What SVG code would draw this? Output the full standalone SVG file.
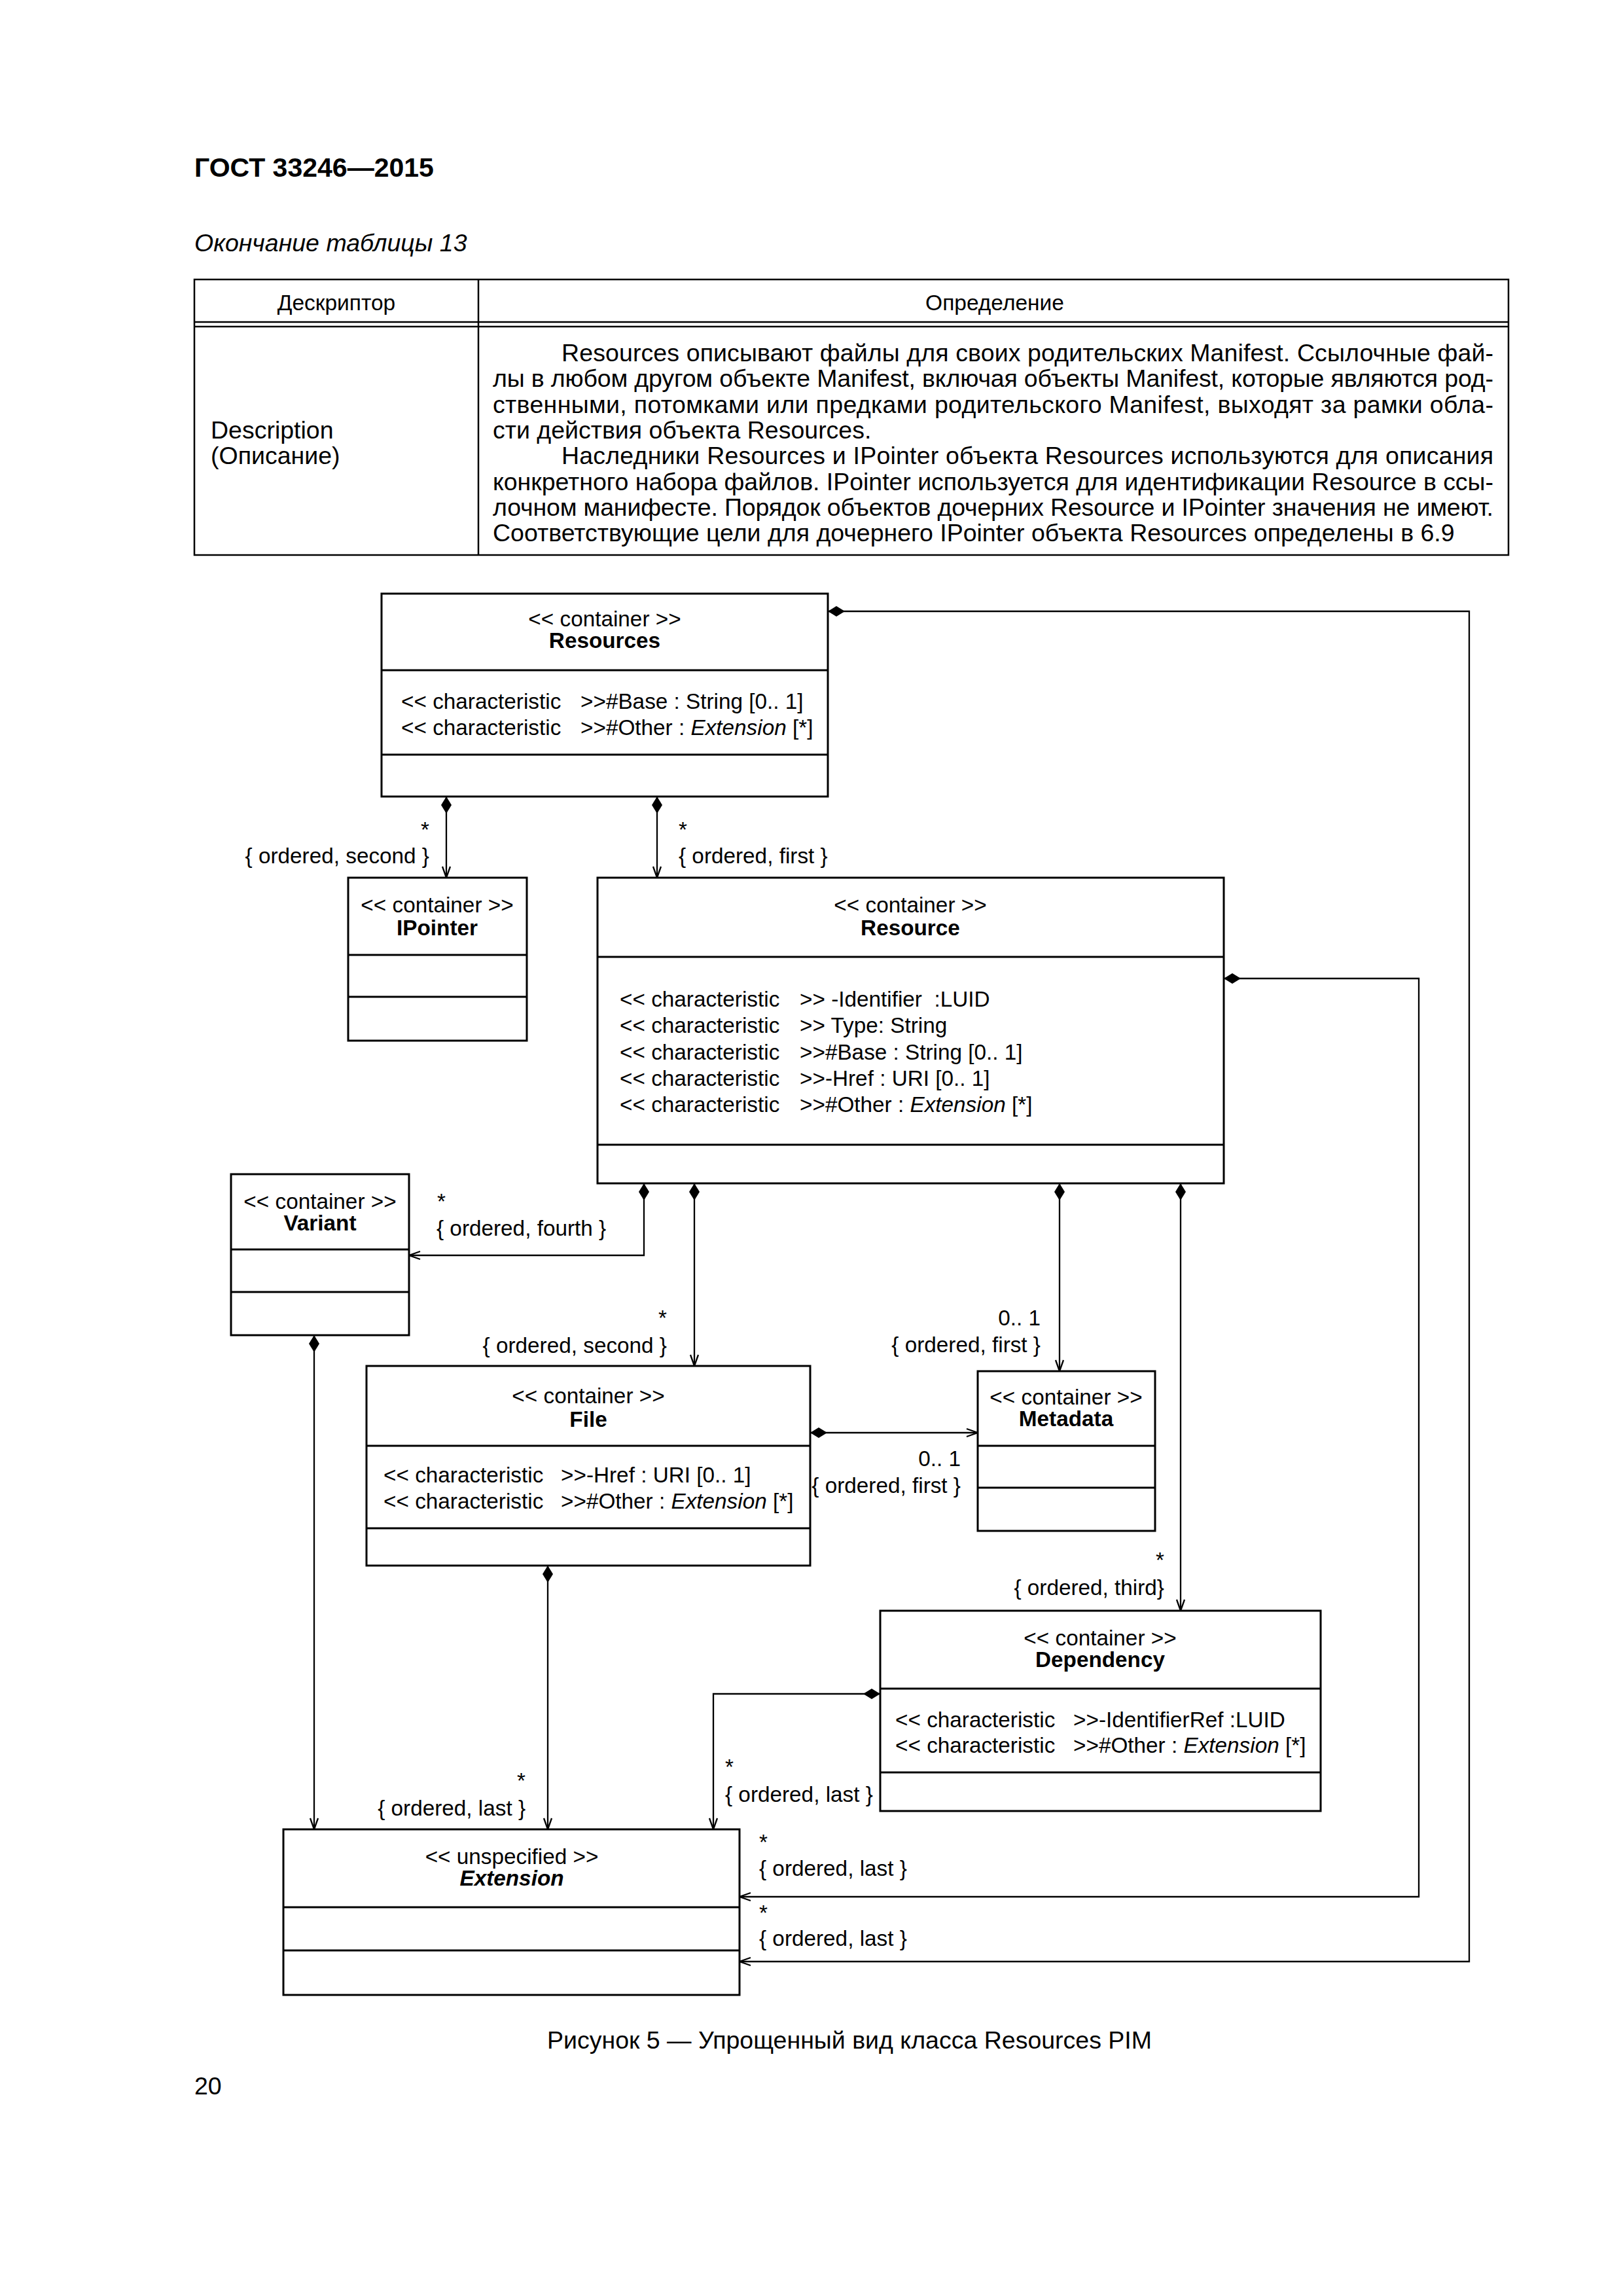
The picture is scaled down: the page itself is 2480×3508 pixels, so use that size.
<svg xmlns="http://www.w3.org/2000/svg" width="2480" height="3508" viewBox="0 0 2480 3508">
<style>
text{font-family:"Liberation Sans",Arial,sans-serif;fill:#000;white-space:pre}
.d{font-size:33.3px}
.p{font-size:37.5px}
.h{font-size:33.5px}
.b{font-weight:bold}
.i{font-style:italic}
.m{text-anchor:middle}
.e{text-anchor:end}
.box{fill:#fff;stroke:#000;stroke-width:3}
.sep{stroke:#000;stroke-width:3}
.tl{stroke:#000;stroke-width:2.5;fill:none}
.conn{fill:none;stroke:#000;stroke-width:2.3;marker-start:url(#dia);marker-end:url(#arr)}
</style>
<defs>
<marker id="dia" markerUnits="userSpaceOnUse" markerWidth="28" markerHeight="18" refX="0" refY="8" orient="auto" overflow="visible">
<path d="M0,8 L13,0 L26,8 L13,16 Z" fill="#000"/>
</marker>
<marker id="arr" markerUnits="userSpaceOnUse" markerWidth="22" markerHeight="16" refX="18" refY="7" orient="auto" overflow="visible">
<path d="M1,1 L18,7 L1,13" fill="none" stroke="#000" stroke-width="2.3"/>
</marker>
</defs>
<rect width="2480" height="3508" fill="#fff"/>

<g id="page-header">
<text class="b" x="297" y="270" style="font-size:41px">ГОСТ 33246—2015</text>
<text class="i" x="297" y="384" style="font-size:37.5px">Окончание таблицы 13</text>
</g>

<g id="table">
<rect x="297" y="427" width="2008" height="421" class="tl"/>
<line x1="731" y1="427" x2="731" y2="848" class="tl"/>
<line x1="297" y1="492" x2="2305" y2="492" class="tl"/>
<line x1="297" y1="499" x2="2305" y2="499" class="tl"/>
<text class="h m" x="514" y="474">Дескриптор</text>
<text class="h m" x="1520" y="474">Определение</text>
<text class="p" x="322" y="670">Description</text>
<text class="p" x="322" y="709">(Описание)</text>
<text class="p" x="858" y="552" textLength="1424" lengthAdjust="spacing">Resources описывают файлы для своих родительских Manifest. Ссылочные фай-</text>
<text class="p" x="753" y="591" textLength="1529" lengthAdjust="spacing">лы в любом другом объекте Manifest, включая объекты Manifest, которые являются род-</text>
<text class="p" x="753" y="631" textLength="1529" lengthAdjust="spacing">ственными, потомками или предками родительского Manifest, выходят за рамки обла-</text>
<text class="p" x="753" y="670">сти действия объекта Resources.</text>
<text class="p" x="858" y="709" textLength="1424" lengthAdjust="spacing">Наследники Resources и IPointer объекта Resources используются для описания</text>
<text class="p" x="753" y="749" textLength="1529" lengthAdjust="spacing">конкретного набора файлов. IPointer используется для идентификации Resource в ссы-</text>
<text class="p" x="753" y="788" textLength="1529" lengthAdjust="spacing">лочном манифесте. Порядок объектов дочерних Resource и IPointer значения не имеют.</text>
<text class="p" x="753" y="827">Соответствующие цели для дочернего IPointer объекта Resources определены в 6.9</text>
</g>

<g id="connectors">
<polyline class="conn" points="682,1217 682,1341"/>
<polyline class="conn" points="1004,1217 1004,1341"/>
<polyline class="conn" points="1265,934 2245,934 2245,2997 1130,2997"/>
<polyline class="conn" points="1870,1495 2168,1495 2168,2898 1130,2898"/>
<polyline class="conn" points="984,1808 984,1918 625,1918"/>
<polyline class="conn" points="1061,1808 1061,2087"/>
<polyline class="conn" points="1619,1808 1619,2095"/>
<polyline class="conn" points="1804,1808 1804,2461"/>
<polyline class="conn" points="1238,2189 1494,2189"/>
<polyline class="conn" points="480,2040 480,2795"/>
<polyline class="conn" points="837,2392 837,2795"/>
<polyline class="conn" points="1345,2588 1090,2588 1090,2795"/>
<g id="connector-labels">
<text class="d e" x="656" y="1279">*</text>
<text class="d e" x="656" y="1319">{ ordered, second }</text>
<text class="d" x="1037" y="1279">*</text>
<text class="d" x="1037" y="1319">{ ordered, first }</text>
<text class="d" x="1160" y="2934">*</text>
<text class="d" x="1160" y="2973">{ ordered, last }</text>
<text class="d" x="1160" y="2826">*</text>
<text class="d" x="1160" y="2866">{ ordered, last }</text>
<text class="d" x="668" y="1847">*</text>
<text class="d" x="667" y="1888">{ ordered, fourth }</text>
<text class="d e" x="1019" y="2025">*</text>
<text class="d e" x="1019" y="2067">{ ordered, second }</text>
<text class="d e" x="1590" y="2025">0.. 1</text>
<text class="d e" x="1590" y="2066">{ ordered, first }</text>
<text class="d e" x="1779" y="2395">*</text>
<text class="d e" x="1779" y="2437">{ ordered, third}</text>
<text class="d e" x="1468" y="2240">0.. 1</text>
<text class="d e" x="1468" y="2281">{ ordered, first }</text>
<text class="d e" x="803" y="2732">*</text>
<text class="d e" x="803" y="2774">{ ordered, last }</text>
<text class="d" x="1108" y="2711">*</text>
<text class="d" x="1108" y="2753">{ ordered, last }</text>
</g>
</g>

<g id="node-resources">
<rect x="583" y="907" width="682" height="310" class="box"/>
<line x1="583" y1="1024" x2="1265" y2="1024" class="sep"/>
<line x1="583" y1="1153" x2="1265" y2="1153" class="sep"/>
<text class="d m" x="924" y="957">&lt;&lt; container &gt;&gt;</text>
<text class="d m b" x="924" y="990">Resources</text>
<text class="d" x="613" y="1083">&lt;&lt; characteristic<tspan x="887">&gt;&gt;#Base : String [0.. 1]</tspan></text>
<text class="d" x="613" y="1123">&lt;&lt; characteristic<tspan x="887">&gt;&gt;#Other : </tspan><tspan class="i">Extension</tspan> [*]</text>
</g>

<g id="node-ipointer">
<rect x="532" y="1341" width="273" height="249" class="box"/>
<line x1="532" y1="1459" x2="805" y2="1459" class="sep"/>
<line x1="532" y1="1523" x2="805" y2="1523" class="sep"/>
<text class="d m" x="668" y="1394">&lt;&lt; container &gt;&gt;</text>
<text class="d m b" x="668" y="1429">IPointer</text>
</g>

<g id="node-resource">
<rect x="913" y="1341" width="957" height="467" class="box"/>
<line x1="913" y1="1462" x2="1870" y2="1462" class="sep"/>
<line x1="913" y1="1749" x2="1870" y2="1749" class="sep"/>
<text class="d m" x="1391" y="1394">&lt;&lt; container &gt;&gt;</text>
<text class="d m b" x="1391" y="1429">Resource</text>
<text class="d" x="947" y="1538">&lt;&lt; characteristic<tspan x="1222">&gt;&gt; -Identifier  :LUID</tspan></text>
<text class="d" x="947" y="1578">&lt;&lt; characteristic<tspan x="1222">&gt;&gt; Type: String</tspan></text>
<text class="d" x="947" y="1619">&lt;&lt; characteristic<tspan x="1222">&gt;&gt;#Base : String [0.. 1]</tspan></text>
<text class="d" x="947" y="1659">&lt;&lt; characteristic<tspan x="1222">&gt;&gt;-Href : URI [0.. 1]</tspan></text>
<text class="d" x="947" y="1699">&lt;&lt; characteristic<tspan x="1222">&gt;&gt;#Other : </tspan><tspan class="i">Extension</tspan> [*]</text>
</g>

<g id="node-variant">
<rect x="353" y="1794" width="272" height="246" class="box"/>
<line x1="353" y1="1909" x2="625" y2="1909" class="sep"/>
<line x1="353" y1="1974" x2="625" y2="1974" class="sep"/>
<text class="d m" x="489" y="1847">&lt;&lt; container &gt;&gt;</text>
<text class="d m b" x="489" y="1880">Variant</text>
</g>

<g id="node-file">
<rect x="560" y="2087" width="678" height="305" class="box"/>
<line x1="560" y1="2209" x2="1238" y2="2209" class="sep"/>
<line x1="560" y1="2335" x2="1238" y2="2335" class="sep"/>
<text class="d m" x="899" y="2144">&lt;&lt; container &gt;&gt;</text>
<text class="d m b" x="899" y="2180">File</text>
<text class="d" x="586" y="2265">&lt;&lt; characteristic<tspan x="857">&gt;&gt;-Href : URI [0.. 1]</tspan></text>
<text class="d" x="586" y="2305">&lt;&lt; characteristic<tspan x="857">&gt;&gt;#Other : </tspan><tspan class="i">Extension</tspan> [*]</text>
</g>

<g id="node-metadata">
<rect x="1494" y="2095" width="271" height="244" class="box"/>
<line x1="1494" y1="2209" x2="1765" y2="2209" class="sep"/>
<line x1="1494" y1="2273" x2="1765" y2="2273" class="sep"/>
<text class="d m" x="1629" y="2146">&lt;&lt; container &gt;&gt;</text>
<text class="d m b" x="1629" y="2179">Metadata</text>
</g>

<g id="node-dependency">
<rect x="1345" y="2461" width="673" height="306" class="box"/>
<line x1="1345" y1="2580" x2="2018" y2="2580" class="sep"/>
<line x1="1345" y1="2708" x2="2018" y2="2708" class="sep"/>
<text class="d m" x="1681" y="2514">&lt;&lt; container &gt;&gt;</text>
<text class="d m b" x="1681" y="2547">Dependency</text>
<text class="d" x="1368" y="2639">&lt;&lt; characteristic<tspan x="1640">&gt;&gt;-IdentifierRef :LUID</tspan></text>
<text class="d" x="1368" y="2678">&lt;&lt; characteristic<tspan x="1640">&gt;&gt;#Other : </tspan><tspan class="i">Extension</tspan> [*]</text>
</g>

<g id="node-extension">
<rect x="433" y="2795" width="697" height="253" class="box"/>
<line x1="433" y1="2914" x2="1130" y2="2914" class="sep"/>
<line x1="433" y1="2980" x2="1130" y2="2980" class="sep"/>
<text class="d m" x="782" y="2848">&lt;&lt; unspecified &gt;&gt;</text>
<text class="d m b i" x="782" y="2881">Extension</text>
</g>

<g id="caption">
<text class="p m" x="1298" y="3130">Рисунок 5 — Упрощенный вид класса Resources PIM</text>
<text class="p" x="297" y="3200">20</text>
</g>
</svg>
